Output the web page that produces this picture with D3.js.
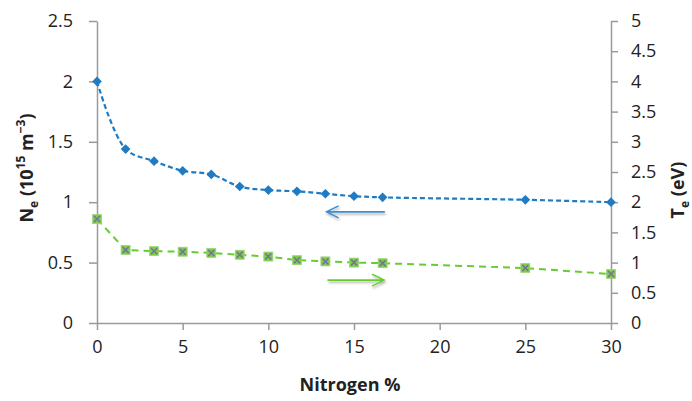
<!DOCTYPE html>
<html>
<head>
<meta charset="utf-8">
<script src="https://cdn.jsdelivr.net/npm/d3@7"></script>
<style>
  body { margin: 0; background: #fff; }
  text { font-family: "Open Sans", "Liberation Sans", sans-serif; fill: #222; }
</style>
</head>
<body>
<div id="chart"></div>
<script>
// data
const nitrogen = [0, 1.67, 3.33, 5, 6.67, 8.33, 10, 11.67, 13.33, 15, 16.67, 25, 30];
const ne = [2.00, 1.44, 1.34, 1.26, 1.23, 1.13, 1.10, 1.09, 1.07, 1.05, 1.04, 1.02, 1.00];
const te = [1.72, 1.21, 1.19, 1.18, 1.16, 1.13, 1.10, 1.04, 1.02, 1.00, 0.99, 0.91, 0.81];
const xTicks = [0, 5, 10, 15, 20, 25, 30];
const leftTicks = [0, 0.5, 1, 1.5, 2, 2.5];
const rightTicks = [0, 0.5, 1, 1.5, 2, 2.5, 3, 3.5, 4, 4.5, 5];
// arrows pointing to the axis of each series: [x from, x to, value]
const neArrow = [16.8, 13.4, 0.92];
const teArrow = [13.45, 16.75, 0.71];

const W = 692, H = 401;
const blue = "#1f7cc4", green = "#66cc33", axisCol = "#9a9a9a";
const fmt = d3.format("~g");

const svg = d3.select("#chart").append("svg")
  .attr("width", W).attr("height", H);

const defs = svg.append("defs");
const shadow = defs.append("filter").attr("id", "shadow")
  .attr("x", "-20%").attr("y", "-100%").attr("width", "140%").attr("height", "300%");
shadow.append("feDropShadow").attr("dx", 1).attr("dy", 2).attr("stdDeviation", 1.2)
  .attr("flood-color", "#000").attr("flood-opacity", 0.3);

const x = d3.scaleLinear().domain([0, 30]).range([97, 611]);
const yL = d3.scaleLinear().domain([0, 2.5]).range([323, 21]);
const yR = d3.scaleLinear().domain([0, 5]).range([323, 21]);

// axes
function styleAxis(g) {
  g.select(".domain").attr("stroke", axisCol).attr("stroke-width", 1.5);
  g.selectAll(".tick line").attr("stroke", axisCol).attr("stroke-width", 1.5);
  g.selectAll(".tick text").style("font-size", "18px").attr("fill", "#222");
}

svg.append("g").attr("transform", `translate(0,${yL(0)})`)
  .call(d3.axisBottom(x).tickValues(xTicks).tickFormat(fmt).tickSize(7).tickSizeOuter(0).tickPadding(10))
  .call(styleAxis);

svg.append("g").attr("transform", `translate(${x(0)},0)`)
  .call(d3.axisLeft(yL).tickValues(leftTicks).tickFormat(fmt).tickSize(8).tickSizeOuter(0).tickPadding(16))
  .call(styleAxis);

svg.append("g").attr("transform", `translate(${x(30)},0)`)
  .call(d3.axisRight(yR).tickValues(rightTicks).tickFormat(fmt).tickSize(7).tickSizeOuter(0).tickPadding(13))
  .call(styleAxis);

// axis titles
svg.append("text").attr("x", 350).attr("y", 391).attr("text-anchor", "middle")
  .style("font-size", "18px").style("font-weight", "bold").text("Nitrogen %");

const lt = svg.append("text").attr("transform", "translate(33,168) rotate(-90)")
  .attr("text-anchor", "middle").style("font-size", "18px").style("font-weight", "bold");
lt.append("tspan").text("N");
lt.append("tspan").attr("dy", 5).style("font-size", "12px").text("e");
lt.append("tspan").attr("dy", -5).text(" (10");
lt.append("tspan").attr("dy", -8).style("font-size", "12px").text("15");
lt.append("tspan").attr("dy", 8).text(" m");
lt.append("tspan").attr("dy", -8).style("font-size", "12px").text("\u22123");
lt.append("tspan").attr("dy", 8).text(")");

const rt = svg.append("text").attr("transform", "translate(684,190) rotate(-90)")
  .attr("text-anchor", "middle").style("font-size", "18px").style("font-weight", "bold");
rt.append("tspan").text("T");
rt.append("tspan").attr("dy", 5).style("font-size", "12px").text("e");
rt.append("tspan").attr("dy", -5).text(" (eV)");

// series lines
const neLine = d3.line().x((d, i) => x(nitrogen[i])).y(d => yL(d)).curve(d3.curveCatmullRom.alpha(0.5));
const teLine = d3.line().x((d, i) => x(nitrogen[i])).y(d => yR(d));

svg.append("path").attr("d", teLine(te)).attr("fill", "none")
  .attr("stroke", green).attr("stroke-width", 2).attr("stroke-dasharray", "7,5");
svg.append("path").attr("d", neLine(ne)).attr("fill", "none")
  .attr("stroke", blue).attr("stroke-width", 2.2).attr("stroke-dasharray", "5,3");

// markers
svg.selectAll(".ne").data(ne).join("path").attr("class", "ne")
  .attr("transform", (d, i) => `translate(${x(nitrogen[i])},${yL(d)})`)
  .attr("d", d3.symbol(d3.symbolDiamond2, 60))
  .attr("fill", blue);

const tm = svg.selectAll(".te").data(te).join("g").attr("class", "te")
  .attr("transform", (d, i) => `translate(${x(nitrogen[i])},${yR(d)})`);
tm.append("rect").attr("x", -4.5).attr("y", -4.5).attr("width", 9).attr("height", 9)
  .attr("fill", "#7acc4a").attr("stroke", "#9bd67a").attr("stroke-width", 0.8);
tm.append("path").attr("d", "M-3,-3L3,3M-3,3L3,-3")
  .attr("stroke", "#7b6b9e").attr("stroke-width", 1.4);

// arrows
function arrow(a, yScale, color) {
  const y0 = yScale(a[2]), x0 = x(a[0]), x1 = x(a[1]);
  const dir = x1 > x0 ? 1 : -1;
  svg.append("path")
    .attr("d", `M${x0},${y0}L${x1},${y0}M${x1 - dir * 12},${y0 - 6}L${x1},${y0}L${x1 - dir * 12},${y0 + 6}`)
    .attr("fill", "none").attr("stroke", color).attr("stroke-width", 1.6)
    .attr("filter", "url(#shadow)");
}
arrow(neArrow, yL, "#3d8fd0");
arrow(teArrow, yR, "#66cc33");
</script>
</body>
</html>
